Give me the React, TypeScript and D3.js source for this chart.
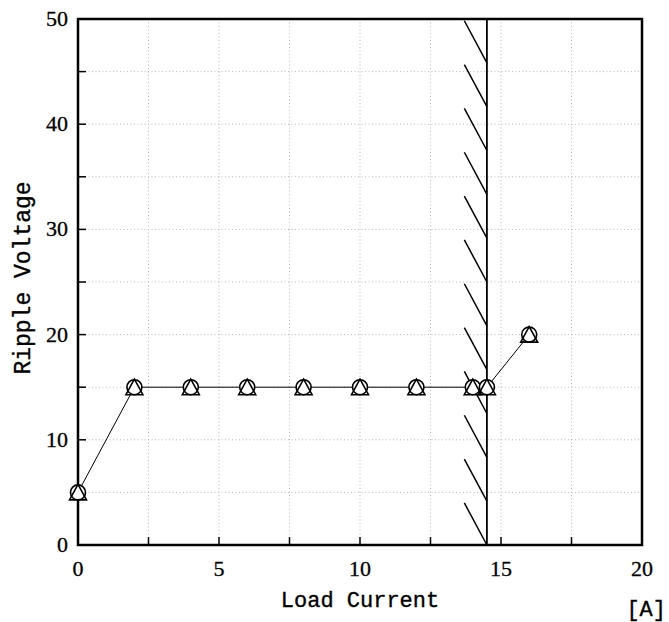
import React from 'react';
import * as d3 from 'd3';

// load current [A] vs ripple voltage, two overlapping series (circle / triangle)
const loadCurrent = [0, 2, 4, 6, 8, 10, 12, 14, 14.5, 16];
const rippleCircle = [5, 15, 15, 15, 15, 15, 15, 15, 15, 20];
const rippleTriangle = [5, 15, 15, 15, 15, 15, 15, 15, 15, 20];
const xTickLabels = [0, 5, 10, 15, 20];
const yTickLabels = [0, 10, 20, 30, 40, 50];
const limitCurrent = 14.5;

const W = 669;
const H = 622;
const margin = { left: 78, right: 27, top: 19, bottom: 77 };
const font = '"Liberation Serif", serif';
const monoFont = '"Liberation Mono", monospace';

const App = () => {
  const x = d3.scaleLinear().domain([0, 20]).range([margin.left, W - margin.right]);
  const y = d3.scaleLinear().domain([0, 50]).range([H - margin.bottom, margin.top]);

  const xMinor = d3.range(0, 20.01, 2.5);
  const yMinor = d3.range(0, 50.01, 5);

  const line = d3.line<number>()
    .x((d, i) => x(loadCurrent[i]))
    .y((d) => y(d));

  // hatching to the left of the limit line
  const hatchCount = 12;
  const hatch = d3.range(hatchCount).map((i) => {
    const yEnd = (i * 50) / hatchCount;
    return { x1: limitCurrent - 0.8, y1: yEnd + 4, x2: limitCurrent, y2: yEnd };
  });

  const r = 7.5;
  const tri = (cx: number, cy: number) =>
    `M${cx},${cy - 8}L${cx + 8.5},${cy + 7.5}L${cx - 8.5},${cy + 7.5}Z`;

  return (
    <svg width={W} height={H} style={{ position: 'absolute', left: 0, top: 0 }}>
      <rect width={W} height={H} fill="#fff" />
      {/* grid */}
      {xMinor.slice(1, -1).map((v) => (
        <line key={`gx${v}`} x1={x(v)} x2={x(v)} y1={y(0)} y2={y(50)}
          stroke="#aaa" strokeWidth={0.8} strokeDasharray="1,2.5" />
      ))}
      {yMinor.slice(1, -1).map((v) => (
        <line key={`gy${v}`} x1={x(0)} x2={x(20)} y1={y(v)} y2={y(v)}
          stroke="#aaa" strokeWidth={0.8} strokeDasharray="1,2.5" />
      ))}
      {/* inward ticks */}
      {xMinor.map((v) => (
        <line key={`tx${v}`} x1={x(v)} x2={x(v)} y1={y(0)} y2={y(0) - 8} stroke="#000" strokeWidth={1.5} />
      ))}
      {yMinor.map((v) => (
        <line key={`ty${v}`} x1={x(0)} x2={x(0) + 8} y1={y(v)} y2={y(v)} stroke="#000" strokeWidth={1.5} />
      ))}
      {/* hatched limit */}
      {hatch.map((h, i) => (
        <line key={`h${i}`} x1={x(h.x1)} y1={y(h.y1)} x2={x(h.x2)} y2={y(h.y2)} stroke="#000" strokeWidth={1.5} />
      ))}
      <line x1={x(limitCurrent)} x2={x(limitCurrent)} y1={y(0)} y2={y(50)} stroke="#000" strokeWidth={1.8} />
      {/* frame */}
      <rect x={x(0)} y={y(50)} width={x(20) - x(0)} height={y(0) - y(50)}
        fill="none" stroke="#000" strokeWidth={2.5} />
      {/* series */}
      <path d={line(rippleCircle) || ''} fill="none" stroke="#000" strokeWidth={1} />
      {rippleCircle.map((v, i) => (
        <circle key={`c${i}`} cx={x(loadCurrent[i])} cy={y(v)} r={r} fill="#fff" stroke="#000" strokeWidth={1.6} />
      ))}
      {rippleTriangle.map((v, i) => (
        <path key={`t${i}`} d={tri(x(loadCurrent[i]), y(v))} fill="none" stroke="#000" strokeWidth={1.6} />
      ))}
      {/* tick labels */}
      {xTickLabels.map((v) => (
        <text key={`xl${v}`} x={x(v)} y={y(0) + 31} textAnchor="middle" fontFamily={font} fontSize={22}
          stroke="#000" strokeWidth={0.3}>{v}</text>
      ))}
      {yTickLabels.map((v) => (
        <text key={`yl${v}`} x={x(0) - 10} y={y(v) + 7} textAnchor="end" fontFamily={font} fontSize={22}
          stroke="#000" strokeWidth={0.3}>{v}</text>
      ))}
      {/* axis titles */}
      <text x={(x(0) + x(20)) / 2} y={607} textAnchor="middle" fontFamily={monoFont} fontSize={22}
        stroke="#000" strokeWidth={0.35}>Load Current</text>
      <text transform={`translate(30,${(y(0) + y(50)) / 2 - 4}) rotate(-90)`} textAnchor="middle"
        fontFamily={monoFont} fontSize={23} stroke="#000" strokeWidth={0.35}>Ripple Voltage</text>
      <text x={666} y={616} textAnchor="end" fontFamily={monoFont} fontSize={22}
        stroke="#000" strokeWidth={0.35}>[A]</text>
    </svg>
  );
};

export default App;
